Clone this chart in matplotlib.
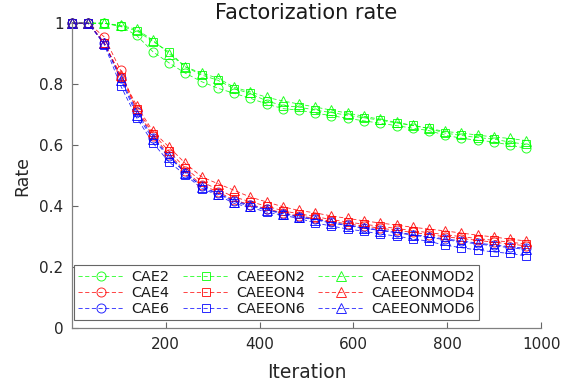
import matplotlib
matplotlib.use("Agg")
import matplotlib.pyplot as plt

iterations = [0, 35, 69, 104, 138, 173, 207, 242, 277, 311, 346, 380, 415, 450, 484,
              519, 553, 588, 622, 657, 692, 726, 761, 795, 830, 865, 899, 934, 968]

cae2 = [1.0, 1.0, 1.0, 0.99, 0.96, 0.906, 0.87, 0.836, 0.808, 0.787, 0.77, 0.754, 0.735, 0.72, 0.715,
        0.705, 0.697, 0.688, 0.68, 0.672, 0.664, 0.656, 0.648, 0.633, 0.623, 0.616, 0.611, 0.600, 0.59]
caeeon2 = [1.0, 1.0, 1.0, 0.99, 0.975, 0.94, 0.906, 0.857, 0.83, 0.813, 0.785, 0.77, 0.745, 0.73, 0.725,
           0.715, 0.707, 0.698, 0.69, 0.682, 0.673, 0.665, 0.655, 0.64, 0.632, 0.625, 0.62, 0.61, 0.603]
caeeonmod2 = [1.0, 1.0, 1.0, 0.993, 0.98, 0.944, 0.9, 0.857, 0.836, 0.82, 0.79, 0.775, 0.757, 0.745, 0.735,
              0.725, 0.715, 0.705, 0.695, 0.685, 0.675, 0.665, 0.655, 0.645, 0.64, 0.633, 0.627, 0.622, 0.615]

cae4 = [1.0, 1.0, 0.955, 0.845, 0.715, 0.63, 0.57, 0.515, 0.47, 0.447, 0.42, 0.405, 0.392, 0.378, 0.368,
        0.36, 0.35, 0.342, 0.335, 0.328, 0.321, 0.314, 0.307, 0.30, 0.294, 0.288, 0.282, 0.276, 0.27]
caeeon4 = [1.0, 1.0, 0.935, 0.825, 0.72, 0.638, 0.58, 0.525, 0.48, 0.455, 0.43, 0.415, 0.40, 0.385, 0.375,
           0.366, 0.356, 0.348, 0.341, 0.334, 0.327, 0.32, 0.313, 0.307, 0.30, 0.294, 0.288, 0.282, 0.276]
caeeonmod4 = [1.0, 1.0, 0.935, 0.83, 0.73, 0.645, 0.594, 0.54, 0.496, 0.474, 0.452, 0.43, 0.414, 0.398, 0.386,
              0.378, 0.368, 0.36, 0.352, 0.345, 0.338, 0.331, 0.325, 0.319, 0.312, 0.305, 0.299, 0.292, 0.286]

cae6 = [1.0, 1.0, 0.935, 0.82, 0.71, 0.625, 0.565, 0.51, 0.465, 0.442, 0.418, 0.403, 0.39, 0.376, 0.366,
        0.357, 0.347, 0.338, 0.33, 0.322, 0.315, 0.307, 0.30, 0.293, 0.286, 0.279, 0.273, 0.267, 0.262]
caeeon6 = [1.0, 1.0, 0.93, 0.795, 0.69, 0.607, 0.545, 0.502, 0.458, 0.436, 0.409, 0.396, 0.381, 0.37, 0.36,
           0.345, 0.335, 0.325, 0.318, 0.309, 0.302, 0.293, 0.285, 0.272, 0.264, 0.256, 0.25, 0.245, 0.237]
caeeonmod6 = [1.0, 1.0, 0.935, 0.815, 0.70, 0.62, 0.56, 0.51, 0.462, 0.44, 0.415, 0.40, 0.388, 0.374, 0.364,
              0.355, 0.345, 0.336, 0.328, 0.32, 0.313, 0.305, 0.298, 0.29, 0.283, 0.276, 0.27, 0.264, 0.258]

series = [
    ("CAE2", cae2, "#00ff00", "o"),
    ("CAE4", cae4, "#ff0000", "o"),
    ("CAE6", cae6, "#0000ff", "o"),
    ("CAEEON2", caeeon2, "#00ff00", "s"),
    ("CAEEON4", caeeon4, "#ff0000", "s"),
    ("CAEEON6", caeeon6, "#0000ff", "s"),
    ("CAEEONMOD2", caeeonmod2, "#00ff00", "^"),
    ("CAEEONMOD4", caeeonmod4, "#ff0000", "^"),
    ("CAEEONMOD6", caeeonmod6, "#0000ff", "^"),
]
sizes = {"o": 6.5, "s": 5.8, "^": 6.5}

plt.rcParams['font.family'] = ['DejaVu Sans']
fig = plt.figure(figsize=(5.66, 3.87), dpi=100)
ax = fig.add_axes([0.127, 0.152, 0.829, 0.788])

for name, vals, col, mk in series:
    ax.plot(iterations, vals, linestyle=(0, (5, 3)), color=col, lw=0.6,
            marker=mk, markersize=sizes[mk], markerfacecolor='none', markeredgecolor=col,
            markeredgewidth=0.7, label=name, clip_on=False, alpha=0.85)

ax.set_xlim(0, 1000)
ax.set_ylim(0, 1)
ax.set_xticks([200, 400, 600, 800, 1000])
ax.set_yticks([0, 0.2, 0.4, 0.6, 0.8, 1])
ax.set_yticklabels(["0", "0.2", "0.4", "0.6", "0.8", "1"])
for s in ['top', 'right']:
    ax.spines[s].set_visible(False)
for s in ['left', 'bottom']:
    ax.spines[s].set_color('0.5')
    ax.spines[s].set_linewidth(0.9)
ax.tick_params(direction='in', length=4, width=0.8, color='0.4', labelsize=11,
               labelcolor='0.15', pad=6)

ax.set_title("Factorization rate", fontsize=15, color='0.1', pad=0)
ax.set_xlabel("Iteration", fontsize=13.5, color='0.15', labelpad=8)
ax.set_ylabel("Rate", fontsize=12.5, color='0.15', labelpad=6)

leg = ax.legend(ncol=3, loc='lower left', bbox_to_anchor=(0.004, 0.026), borderaxespad=0,
                fontsize=10.4, handlelength=3.2, handletextpad=0.5, columnspacing=0.9,
                labelspacing=0.15, borderpad=0.3, fancybox=False, framealpha=1)
leg.get_frame().set_edgecolor('0.4')
leg.get_frame().set_linewidth(0.8)
for t in leg.get_texts():
    t.set_color('0.1')

fig.savefig("out.png", dpi=100)
